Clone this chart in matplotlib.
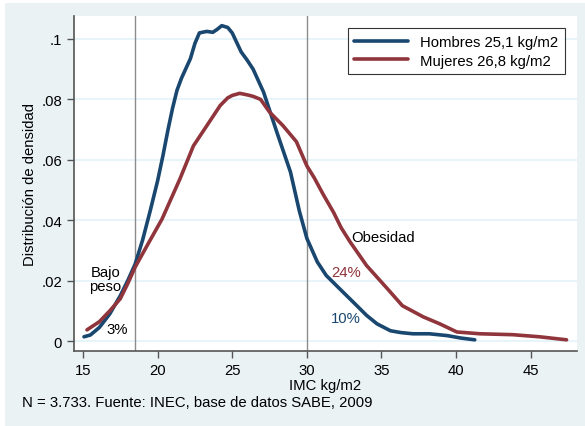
import numpy as np
import matplotlib.pyplot as plt
import matplotlib.patches as mpatches

plt.rcParams['font.family'] = ['Liberation Sans', 'DejaVu Sans']

# Densidad kernel del IMC
hombres_x = [15.07, 15.5, 16.1, 16.8, 17.5, 18.0, 18.5, 19.0, 19.5, 20.0, 20.36, 20.7,
             21.0, 21.3, 21.6, 22.2, 22.5, 22.8, 23.3, 23.7, 24.0, 24.3, 24.7, 25.0,
             25.6, 26.0, 26.4, 27.1, 28.0, 28.9, 29.5, 30.0, 30.7, 31.3, 32.2, 33.35,
             34.0, 34.7, 35.6, 36.3, 37.1, 38.2, 39.4, 40.3, 41.25]
hombres_y = [0.0014, 0.0020, 0.0045, 0.0090, 0.0150, 0.0200, 0.0255, 0.0335, 0.0430,
             0.0530, 0.0614, 0.0700, 0.0770, 0.0830, 0.0870, 0.0935, 0.0985, 0.1020,
             0.1025, 0.1022, 0.1032, 0.1044, 0.1038, 0.1020, 0.0957, 0.0930, 0.0900,
             0.0824, 0.0690, 0.0560, 0.0430, 0.0340, 0.0262, 0.0217, 0.0173, 0.0117,
             0.0085, 0.0057, 0.0034, 0.0028, 0.0024, 0.0024, 0.0018, 0.0010, 0.0004]

mujeres_x = [15.27, 16.1, 16.8, 17.5, 18.0, 18.5, 19.4, 20.3, 21.5, 22.4, 23.3, 24.2,
             24.7, 25.0, 25.5, 26.0, 26.4, 26.9, 27.5, 28.4, 29.3, 30.0, 30.5, 31.1,
             31.8, 32.3, 32.9, 34.0, 35.4, 36.4, 37.8, 38.9, 40.05, 41.6, 43.8, 45.6,
             47.4]
mujeres_y = [0.0037, 0.0064, 0.0100, 0.0140, 0.0190, 0.0245, 0.0325, 0.0404, 0.0537,
             0.0646, 0.0713, 0.0780, 0.0805, 0.0813, 0.0820, 0.0815, 0.0810, 0.0800,
             0.0758, 0.0713, 0.0660, 0.0580, 0.0540, 0.0485, 0.0425, 0.0375, 0.0328,
             0.0250, 0.0173, 0.0117, 0.0080, 0.0057, 0.0030, 0.0024, 0.0021, 0.0014,
             0.0004]

cortes = [18.5, 30]
x_ticks = [15, 20, 25, 30, 35, 40, 45]
y_ticks = [0, 0.02, 0.04, 0.06, 0.08, 0.1]
y_labels = ['0', '.02', '.04', '.06', '.08', '.1']

azul = '#1a476f'
rojo = '#90353b'
fondo = '#eaf2f3'
fs = 10.7

fig = plt.figure(figsize=(5.85, 4.27), dpi=100)
fig.patch.set_facecolor('white')
# fondo estilo Stata (con un borde blanco arriba y a la izquierda)
fig.patches.append(mpatches.Rectangle((5 / 585, 0), 1, 1 - 4 / 427,
                                      transform=fig.transFigure,
                                      facecolor=fondo, edgecolor='none', zorder=-10))

ax = fig.add_axes([74 / 585, (427 - 352) / 427, (577 - 74) / 585, (352 - 17) / 427])
ax.set_facecolor('white')

for y in y_ticks:
    ax.axhline(y, color='#e3f2f8', lw=1.2, zorder=0)
for c in cortes:
    ax.axvline(c, color='#8c8c8c', lw=1.0, zorder=1)

ax.plot(hombres_x, hombres_y, color=azul, lw=2.6, label='Hombres 25,1 kg/m2',
        solid_capstyle='round', solid_joinstyle='round', zorder=3)
ax.plot(mujeres_x, mujeres_y, color=rojo, lw=2.6, label='Mujeres 26,8 kg/m2',
        solid_capstyle='round', solid_joinstyle='round', zorder=3)

ax.set_xlim(14.4, 48.1)
ax.set_ylim(-0.0033, 0.1076)
ax.set_xticks(x_ticks)
ax.set_yticks(y_ticks)
ax.set_yticklabels(y_labels)
ax.tick_params(labelsize=fs, color='#555555', length=5, width=1)

for s in ['top', 'right']:
    ax.spines[s].set_visible(False)
for s in ['left', 'bottom']:
    ax.spines[s].set_color('#555555')
    ax.spines[s].set_linewidth(1.2)

ax.set_xlabel('IMC kg/m2', fontsize=fs, labelpad=1)
ax.set_ylabel('Distribución de densidad', fontsize=fs, labelpad=3)

ax.text(16.5, 0.0205, 'Bajo\npeso', fontsize=fs, ha='center', va='center',
        linespacing=1.0, zorder=2)
ax.text(17.3, 0.0040, '3%', fontsize=fs, ha='center', va='center')
ax.text(35.1, 0.0345, 'Obesidad', fontsize=fs, ha='center', va='center')
ax.text(32.6, 0.0228, '24%', fontsize=fs, ha='center', va='center', color=rojo)
ax.text(32.6, 0.0075, '10%', fontsize=fs, ha='center', va='center', color=azul)

leg = ax.legend(loc='upper right', bbox_to_anchor=(0.99, 0.985), fontsize=fs,
                frameon=True, fancybox=False, handlelength=3.6, handletextpad=0.8,
                borderpad=0.45, labelspacing=0.3)
leg.get_frame().set_edgecolor('black')
leg.get_frame().set_linewidth(0.8)

fig.text(22 / 585, 1 - 403 / 427, 'N = 3.733. Fuente: INEC, base de datos SABE, 2009',
         fontsize=fs, ha='left', va='center')

fig.savefig('out.png', dpi=100, facecolor=fig.get_facecolor())
